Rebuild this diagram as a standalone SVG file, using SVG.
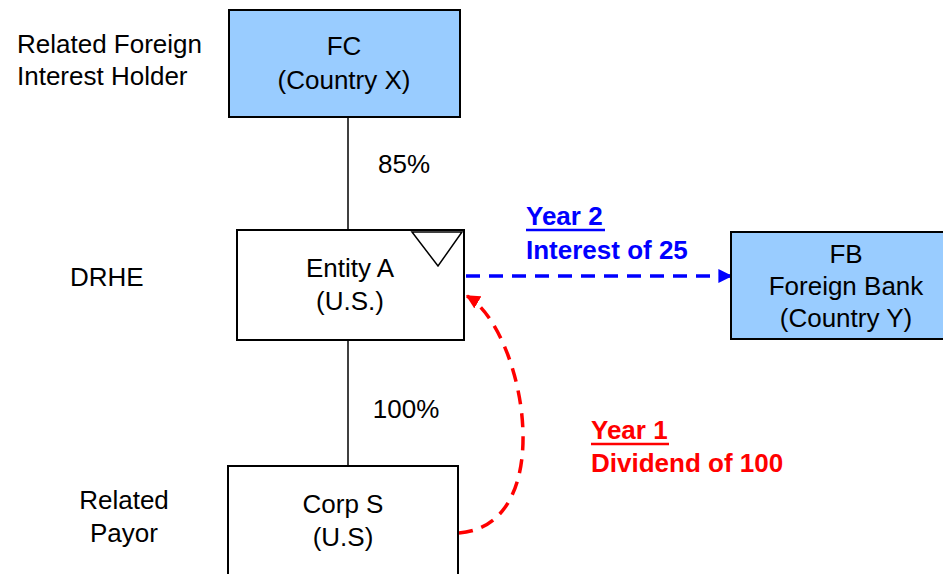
<svg xmlns="http://www.w3.org/2000/svg" width="943" height="574" viewBox="0 0 943 574">
<defs>
<style>
text{font-family:"Liberation Sans",Arial,sans-serif;font-size:26px;fill:#000}
.c{text-anchor:middle}
.box{stroke:#000;stroke-width:2}
.blue{fill:#99CCFF}
.white{fill:#fff}
.b{font-weight:bold;fill:#0000FF}
.r{font-weight:bold;fill:#FF0000}
</style>
<marker id="ab" viewBox="0 0 10 10" refX="9" refY="5" markerWidth="4" markerHeight="4" orient="auto" markerUnits="strokeWidth"><path d="M0,0 L10,5 L0,10 z" fill="#0000FF"/></marker>
<marker id="ar" viewBox="0 0 10 10" refX="9" refY="5" markerWidth="4" markerHeight="4" orient="auto" markerUnits="strokeWidth"><path d="M0,0 L10,5 L0,10 z" fill="#FF0000"/></marker>
</defs>
<g id="connectors">
<line x1="348" y1="117" x2="348" y2="230" stroke="#000" stroke-width="1.5"/>
<line x1="348" y1="340" x2="348" y2="466" stroke="#000" stroke-width="1.5"/>
<line x1="466" y1="276" x2="731" y2="276" stroke="#0000FF" stroke-width="3.5" stroke-dasharray="14,9" marker-end="url(#ab)"/>
<path d="M459,533 C560,525 525,330 467,296" fill="none" stroke="#FF0000" stroke-width="3.5" stroke-dasharray="14,9" marker-end="url(#ar)"/>
<text x="404" y="173" class="c">85%</text>
<text x="406" y="418" class="c">100%</text>
<text x="526" y="225" class="b">Year 2</text>
<line x1="526" y1="230" x2="605" y2="230" stroke="#0000FF" stroke-width="2.5"/>
<text x="526" y="259" class="b">Interest of 25</text>
<text x="591" y="439" class="r">Year 1</text>
<line x1="591" y1="444" x2="669" y2="444" stroke="#FF0000" stroke-width="2.5"/>
<text x="591" y="472" class="r">Dividend of 100</text>
</g>
<g id="labels">
<text x="17" y="53">Related Foreign</text>
<text x="17" y="85">Interest Holder</text>
<text x="70" y="286">DRHE</text>
<text x="124" y="509" class="c">Related</text>
<text x="124" y="542" class="c">Payor</text>
</g>
<g id="fc">
<rect x="229" y="10" width="231" height="107" class="box blue"/>
<text x="344" y="55" class="c">FC</text>
<text x="344" y="89" class="c">(Country X)</text>
</g>
<g id="entity-a">
<rect x="237" y="230" width="227" height="110" class="box white"/>
<polygon points="412,232 462,232 438,266" fill="none" stroke="#000" stroke-width="1.5"/>
<text x="350" y="277" class="c">Entity A</text>
<text x="350" y="310" class="c">(U.S.)</text>
</g>
<g id="fb">
<rect x="731" y="232" width="214" height="107" class="box blue"/>
<text x="846" y="263" class="c">FB</text>
<text x="846" y="295" class="c">Foreign Bank</text>
<text x="846" y="327" class="c">(Country Y)</text>
</g>
<g id="corp-s">
<rect x="228" y="466" width="230" height="120" class="box white"/>
<text x="343" y="513" class="c">Corp S</text>
<text x="343" y="546" class="c">(U.S)</text>
</g>
</svg>
